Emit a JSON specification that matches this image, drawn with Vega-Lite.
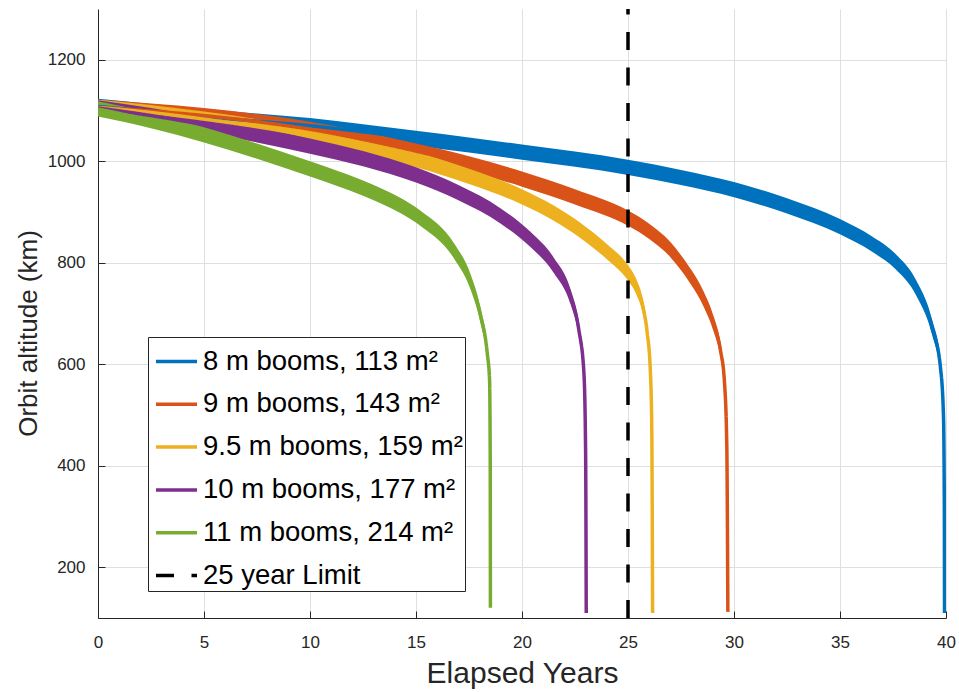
{
  "$schema": "https://vega.github.io/schema/vega-lite/v6.json",
  "autosize": {"type": "none"},
  "padding": {"left": 98, "top": 9, "right": 13, "bottom": 74},
  "width": 848,
  "height": 609,
  "background": "white",
  "config": {
    "view": {"stroke": null},
    "font": "Liberation Sans",
    "axis": {
      "labelFont": "Liberation Sans",
      "titleFont": "Liberation Sans",
      "labelColor": "#262626",
      "titleColor": "#262626",
      "labelFontSize": 17,
      "titleFontWeight": "normal",
      "domainColor": "#262626",
      "domainWidth": 1,
      "tickColor": "#262626",
      "tickSize": -7,
      "tickWidth": 1,
      "gridColor": "#dfdfdf",
      "gridWidth": 1,
      "labelFlush": false
    },
    "legend": {
      "padding": 2,
      "symbolOffset": 4,
      "rowPadding": 6.8,
      "labelOffset": 4,
      "labelFontSize": 27.5,
      "labelFont": "Liberation Sans",
      "labelColor": "#000000",
      "labelLimit": 400,
      "symbolType": "stroke",
      "symbolSize": 1681,
      "strokeColor": "#262626",
      "fillColor": "white",
      "cornerRadius": 0
    }
  },
  "data": {
    "values": [
      {"s": "8 m booms, 113 m²", "t": 0, "alt": 1108, "lo": 1093, "hi": 1123},
      {"s": "8 m booms, 113 m²", "t": 2.5, "alt": 1098, "lo": 1083, "hi": 1113},
      {"s": "8 m booms, 113 m²", "t": 5, "alt": 1088, "lo": 1073, "hi": 1103},
      {"s": "8 m booms, 113 m²", "t": 7.5, "alt": 1079, "lo": 1064, "hi": 1094},
      {"s": "8 m booms, 113 m²", "t": 10, "alt": 1070, "lo": 1055, "hi": 1085},
      {"s": "8 m booms, 113 m²", "t": 12.5, "alt": 1058, "lo": 1043, "hi": 1073},
      {"s": "8 m booms, 113 m²", "t": 15, "alt": 1045, "lo": 1030, "hi": 1060},
      {"s": "8 m booms, 113 m²", "t": 17.5, "alt": 1032, "lo": 1017, "hi": 1047},
      {"s": "8 m booms, 113 m²", "t": 20, "alt": 1018, "lo": 1003, "hi": 1033},
      {"s": "8 m booms, 113 m²", "t": 22.5, "alt": 1004, "lo": 989, "hi": 1019},
      {"s": "8 m booms, 113 m²", "t": 25, "alt": 988, "lo": 973, "hi": 1003},
      {"s": "8 m booms, 113 m²", "t": 27.5, "alt": 968, "lo": 953, "hi": 983},
      {"s": "8 m booms, 113 m²", "t": 30, "alt": 944, "lo": 929, "hi": 959},
      {"s": "8 m booms, 113 m²", "t": 32.5, "alt": 912, "lo": 897, "hi": 927},
      {"s": "8 m booms, 113 m²", "t": 35, "alt": 871, "lo": 856, "hi": 886},
      {"s": "8 m booms, 113 m²", "t": 36.5, "alt": 837, "lo": 822, "hi": 852},
      {"s": "8 m booms, 113 m²", "t": 37.6, "alt": 803, "lo": 788, "hi": 818},
      {"s": "8 m booms, 113 m²", "t": 38.6, "alt": 750, "lo": 735, "hi": 765},
      {"s": "8 m booms, 113 m²", "t": 39.35, "alt": 672, "lo": 657, "hi": 687},
      {"s": "8 m booms, 113 m²", "t": 39.74, "alt": 593, "lo": 578, "hi": 608},
      {"s": "8 m booms, 113 m²", "t": 39.88, "alt": 500, "lo": 485, "hi": 515},
      {"s": "8 m booms, 113 m²", "t": 39.92, "alt": 330, "lo": 315, "hi": 345},
      {"s": "8 m booms, 113 m²", "t": 39.93, "alt": 110, "lo": 110, "hi": 110},

      {"s": "9 m booms, 143 m²", "t": 0, "alt": 1106, "lo": 1091, "hi": 1121},
      {"s": "9 m booms, 143 m²", "t": 2.5, "alt": 1099, "lo": 1084, "hi": 1114},
      {"s": "9 m booms, 143 m²", "t": 5, "alt": 1090, "lo": 1075, "hi": 1105},
      {"s": "9 m booms, 143 m²", "t": 7.5, "alt": 1078, "lo": 1063, "hi": 1093},
      {"s": "9 m booms, 143 m²", "t": 10, "alt": 1063, "lo": 1048, "hi": 1078},
      {"s": "9 m booms, 143 m²", "t": 12.5, "alt": 1043, "lo": 1028, "hi": 1058},
      {"s": "9 m booms, 143 m²", "t": 15, "alt": 1020, "lo": 1005, "hi": 1035},
      {"s": "9 m booms, 143 m²", "t": 17.5, "alt": 995, "lo": 980, "hi": 1010},
      {"s": "9 m booms, 143 m²", "t": 20, "alt": 965, "lo": 950, "hi": 980},
      {"s": "9 m booms, 143 m²", "t": 22.5, "alt": 930, "lo": 915, "hi": 945},
      {"s": "9 m booms, 143 m²", "t": 25, "alt": 888, "lo": 873, "hi": 903},
      {"s": "9 m booms, 143 m²", "t": 26, "alt": 862, "lo": 847, "hi": 877},
      {"s": "9 m booms, 143 m²", "t": 27, "alt": 826, "lo": 811, "hi": 841},
      {"s": "9 m booms, 143 m²", "t": 27.5, "alt": 800, "lo": 785, "hi": 815},
      {"s": "9 m booms, 143 m²", "t": 28, "alt": 770, "lo": 755, "hi": 785},
      {"s": "9 m booms, 143 m²", "t": 28.55, "alt": 730, "lo": 715, "hi": 745},
      {"s": "9 m booms, 143 m²", "t": 29.05, "alt": 678, "lo": 663, "hi": 693},
      {"s": "9 m booms, 143 m²", "t": 29.36, "alt": 628, "lo": 613, "hi": 643},
      {"s": "9 m booms, 143 m²", "t": 29.55, "alt": 565, "lo": 550, "hi": 580},
      {"s": "9 m booms, 143 m²", "t": 29.66, "alt": 440, "lo": 425, "hi": 455},
      {"s": "9 m booms, 143 m²", "t": 29.71, "alt": 112, "lo": 112, "hi": 112},

      {"s": "9.5 m booms, 159 m²", "t": 0, "alt": 1106, "lo": 1091, "hi": 1121},
      {"s": "9.5 m booms, 159 m²", "t": 2.5, "alt": 1096, "lo": 1081, "hi": 1111},
      {"s": "9.5 m booms, 159 m²", "t": 5, "alt": 1083, "lo": 1068, "hi": 1098},
      {"s": "9.5 m booms, 159 m²", "t": 7.5, "alt": 1068, "lo": 1053, "hi": 1083},
      {"s": "9.5 m booms, 159 m²", "t": 10, "alt": 1050, "lo": 1035, "hi": 1065},
      {"s": "9.5 m booms, 159 m²", "t": 12.5, "alt": 1028, "lo": 1013, "hi": 1043},
      {"s": "9.5 m booms, 159 m²", "t": 15, "alt": 1003, "lo": 988, "hi": 1018},
      {"s": "9.5 m booms, 159 m²", "t": 17.5, "alt": 970, "lo": 955, "hi": 985},
      {"s": "9.5 m booms, 159 m²", "t": 20, "alt": 930, "lo": 915, "hi": 945},
      {"s": "9.5 m booms, 159 m²", "t": 21.5, "alt": 898, "lo": 883, "hi": 913},
      {"s": "9.5 m booms, 159 m²", "t": 22.75, "alt": 864, "lo": 849, "hi": 879},
      {"s": "9.5 m booms, 159 m²", "t": 24, "alt": 822, "lo": 807, "hi": 837},
      {"s": "9.5 m booms, 159 m²", "t": 25, "alt": 780, "lo": 765, "hi": 795},
      {"s": "9.5 m booms, 159 m²", "t": 25.4, "alt": 752, "lo": 737, "hi": 767},
      {"s": "9.5 m booms, 159 m²", "t": 25.7, "alt": 714, "lo": 699, "hi": 729},
      {"s": "9.5 m booms, 159 m²", "t": 25.9, "alt": 664, "lo": 649, "hi": 679},
      {"s": "9.5 m booms, 159 m²", "t": 26.05, "alt": 590, "lo": 575, "hi": 605},
      {"s": "9.5 m booms, 159 m²", "t": 26.12, "alt": 480, "lo": 465, "hi": 495},
      {"s": "9.5 m booms, 159 m²", "t": 26.16, "alt": 110, "lo": 110, "hi": 110},

      {"s": "10 m booms, 177 m²", "t": 0, "alt": 1105, "lo": 1090, "hi": 1120},
      {"s": "10 m booms, 177 m²", "t": 2.5, "alt": 1090, "lo": 1075, "hi": 1105},
      {"s": "10 m booms, 177 m²", "t": 5, "alt": 1072, "lo": 1057, "hi": 1087},
      {"s": "10 m booms, 177 m²", "t": 7.5, "alt": 1052, "lo": 1037, "hi": 1067},
      {"s": "10 m booms, 177 m²", "t": 10, "alt": 1030, "lo": 1015, "hi": 1045},
      {"s": "10 m booms, 177 m²", "t": 12.5, "alt": 1005, "lo": 990, "hi": 1020},
      {"s": "10 m booms, 177 m²", "t": 15, "alt": 973, "lo": 958, "hi": 988},
      {"s": "10 m booms, 177 m²", "t": 17, "alt": 938, "lo": 923, "hi": 953},
      {"s": "10 m booms, 177 m²", "t": 19, "alt": 892, "lo": 877, "hi": 907},
      {"s": "10 m booms, 177 m²", "t": 20.4, "alt": 846, "lo": 831, "hi": 861},
      {"s": "10 m booms, 177 m²", "t": 21.5, "alt": 795, "lo": 780, "hi": 810},
      {"s": "10 m booms, 177 m²", "t": 22.3, "alt": 732, "lo": 717, "hi": 747},
      {"s": "10 m booms, 177 m²", "t": 22.68, "alt": 668, "lo": 653, "hi": 683},
      {"s": "10 m booms, 177 m²", "t": 22.92, "alt": 583, "lo": 568, "hi": 598},
      {"s": "10 m booms, 177 m²", "t": 23.0, "alt": 430, "lo": 415, "hi": 445},
      {"s": "10 m booms, 177 m²", "t": 23.03, "alt": 110, "lo": 110, "hi": 110},

      {"s": "11 m booms, 214 m²", "t": 0, "alt": 1103, "lo": 1088, "hi": 1118},
      {"s": "11 m booms, 214 m²", "t": 2.5, "alt": 1080, "lo": 1065, "hi": 1095},
      {"s": "11 m booms, 214 m²", "t": 5, "alt": 1052, "lo": 1037, "hi": 1067},
      {"s": "11 m booms, 214 m²", "t": 7.5, "alt": 1020, "lo": 1005, "hi": 1035},
      {"s": "11 m booms, 214 m²", "t": 10, "alt": 985, "lo": 970, "hi": 1000},
      {"s": "11 m booms, 214 m²", "t": 12.5, "alt": 947, "lo": 932, "hi": 962},
      {"s": "11 m booms, 214 m²", "t": 14.3, "alt": 912, "lo": 897, "hi": 927},
      {"s": "11 m booms, 214 m²", "t": 15.2, "alt": 888, "lo": 873, "hi": 903},
      {"s": "11 m booms, 214 m²", "t": 16.8, "alt": 823, "lo": 808, "hi": 838},
      {"s": "11 m booms, 214 m²", "t": 17.57, "alt": 763, "lo": 748, "hi": 778},
      {"s": "11 m booms, 214 m²", "t": 18.04, "alt": 697, "lo": 682, "hi": 712},
      {"s": "11 m booms, 214 m²", "t": 18.36, "alt": 622, "lo": 607, "hi": 637},
      {"s": "11 m booms, 214 m²", "t": 18.47, "alt": 569, "lo": 554, "hi": 584},
      {"s": "11 m booms, 214 m²", "t": 18.5, "alt": 420, "lo": 405, "hi": 435},
      {"s": "11 m booms, 214 m²", "t": 18.51, "alt": 120, "lo": 120, "hi": 120},

      {"s": "25 year Limit", "t": 25, "alt": 100},
      {"s": "25 year Limit", "t": 25, "alt": 1300}
    ]
  },
  "encoding": {
    "x": {
      "field": "t", "type": "quantitative",
      "scale": {"domain": [0, 40], "nice": false, "zero": false},
      "axis": {
        "title": "Elapsed Years",
        "values": [0, 5, 10, 15, 20, 25, 30, 35, 40],
        "labelPadding": 23,
        "titleFontSize": 30,
        "titleBaseline": "middle",
        "titleY": 55
      }
    }
  },
  "layer": [
    {
      "transform": [{"filter": "datum.s !== '25 year Limit'"}],
      "mark": {"type": "area", "interpolate": "monotone", "clip": true},
      "encoding": {
        "y": {"field": "hi", "type": "quantitative", "scale": {"domain": [100, 1300], "nice": false, "zero": false}},
        "y2": {"field": "lo"},
        "fill": {
          "field": "s", "type": "nominal",
          "scale": {
            "domain": ["8 m booms, 113 m²", "9 m booms, 143 m²", "9.5 m booms, 159 m²", "10 m booms, 177 m²", "11 m booms, 214 m²"],
            "range": ["#0072BD", "#D95319", "#EDB120", "#7E2F8E", "#77AC30"]
          },
          "legend": null
        }
      }
    },
    {
      "mark": {"type": "line", "interpolate": "monotone", "clip": true},
      "encoding": {
        "y": {
          "field": "alt", "type": "quantitative",
          "scale": {"domain": [100, 1300], "nice": false, "zero": false},
          "axis": {
            "title": "Orbit altitude (km)",
            "format": "d",
            "values": [200, 400, 600, 800, 1000, 1200],
            "labelPadding": 20,
            "titleFontSize": 26,
            "titleBaseline": "middle",
            "titleX": -70,
            "titleY": 324
          }
        },
        "color": {
          "field": "s", "type": "nominal",
          "scale": {
            "domain": ["8 m booms, 113 m²", "9 m booms, 143 m²", "9.5 m booms, 159 m²", "10 m booms, 177 m²", "11 m booms, 214 m²", "25 year Limit"],
            "range": ["#0072BD", "#D95319", "#EDB120", "#7E2F8E", "#77AC30", "#000000"]
          },
          "legend": {"title": null, "orient": "none", "legendX": 50, "legendY": 328}
        },
        "strokeDash": {
          "field": "s", "type": "nominal",
          "scale": {
            "domain": ["8 m booms, 113 m²", "9 m booms, 143 m²", "9.5 m booms, 159 m²", "10 m booms, 177 m²", "11 m booms, 214 m²", "25 year Limit"],
            "range": [[1, 0], [1, 0], [1, 0], [1, 0], [1, 0], [18, 17.5]]
          },
          "legend": {"title": null, "orient": "none", "legendX": 50, "legendY": 328}
        },
        "strokeWidth": {
          "field": "s", "type": "nominal",
          "scale": {
            "domain": ["8 m booms, 113 m²", "9 m booms, 143 m²", "9.5 m booms, 159 m²", "10 m booms, 177 m²", "11 m booms, 214 m²", "25 year Limit"],
            "range": [3.5, 3.5, 3.5, 3.5, 3.5, 4.7]
          },
          "legend": {"title": null, "orient": "none", "legendX": 50, "legendY": 328}
        }
      }
    }
  ]
}
